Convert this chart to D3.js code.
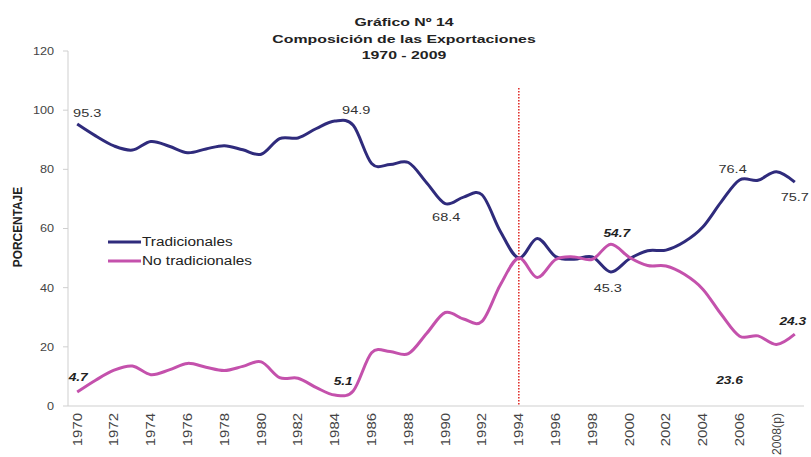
<!DOCTYPE html>
<html><head><meta charset="utf-8">
<script src="https://cdn.jsdelivr.net/npm/d3@7"></script>
<style>
body{margin:0;background:#fff}
text{font-family:"Liberation Sans",Arial,sans-serif}
</style>
</head><body>
<svg id="c" width="811" height="457"></svg>
<script>
const years = [1970,1971,1972,1973,1974,1975,1976,1977,1978,1979,
               1980,1981,1982,1983,1984,1985,1986,1987,1988,1989,
               1990,1991,1992,1993,1994,1995,1996,1997,1998,1999,
               2000,2001,2002,2003,2004,2005,2006,2007,2008,2009];
const tradicionales = [95.3,91.3,87.9,86.5,89.4,87.8,85.6,86.9,88.0,86.6,
                       85.1,90.4,90.6,93.8,96.3,94.9,82.0,81.6,82.3,75.4,
                       68.4,70.6,71.4,59.0,50.0,56.6,50.5,49.6,50.4,45.3,
                       49.7,52.5,52.7,55.5,60.5,69.0,76.4,76.3,79.2,75.7];
const noTradicionales = [4.7,8.7,12.1,13.5,10.6,12.2,14.4,13.1,12.0,13.4,
                         14.9,9.6,9.4,6.2,3.7,5.1,18.0,18.4,17.7,24.6,
                         31.6,29.4,28.6,41.0,50.0,43.4,49.5,50.4,49.6,54.7,
                         50.3,47.5,47.3,44.5,39.5,31.0,23.6,23.7,20.8,24.3];
const xTickYears = [1970,1972,1974,1976,1978,1980,1982,1984,1986,1988,1990,
                    1992,1994,1996,1998,2000,2002,2004,2006,2008];
const xTickLabels = ["1970","1972","1974","1976","1978","1980","1982","1984","1986","1988","1990",
                     "1992","1994","1996","1998","2000","2002","2004","2006","2008(p)"];
const yTicks = [0,20,40,60,80,100,120];
const titleLines = ["Gráfico  Nº 14","Composición de las Exportaciones","1970 - 2009"];
const seriesNames = ["Tradicionales","No tradicionales"];
const markerYear = 1994;
// labelled points: [year, text, dx, dy]
const tradLabels = [[1970,"95.3",10,-11],[1985,"94.9",3,-15],[1990,"68.4",1,13],
                    [1999,"45.3",-3,16],[2006,"76.4",-7,-11],[2009,"75.7",0,15]];
const noTradLabels = [[1970,"4.7",1,-15],[1985,"5.1",-10,-10],[1999,"54.7",6,-11],
                      [2006,"23.6",-10,44],[2009,"24.3",-2,-13]];

const colors = ["#2f2b7c","#c451ac"];
const svg = d3.select("#c");
const x = d3.scalePoint().domain(years).range([68, 804]).padding(0.5);
const y = d3.scaleLinear().domain([0,120]).range([406, 51]);

function stext(g, tx, ty, str, opts){
  const t = g.append("text")
    .attr("text-anchor", opts.anchor||"middle")
    .attr("dy", opts.dy||"0.35em")
    .style("font-size", (opts.size||11)+"px")
    .style("font-weight", opts.weight||"normal")
    .style("font-style", opts.style||"normal")
    .attr("fill", opts.fill||"#333")
    .text(str);
  let sx = opts.sx||1;
  if (opts.maxLen) {
    const w = t.node().getComputedTextLength();
    if (w*sx > opts.maxLen) sx = opts.maxLen / w;
  }
  t.attr("transform", `translate(${tx},${ty})${opts.rot?" rotate("+opts.rot+")":""} scale(${sx},${opts.sy||1})`);
  return t;
}

// title
const tY = [22, 39, 55];
titleLines.forEach((s,i)=> stext(svg, 404, tY[i], s, {size:11.5, weight:"bold", sx:1.38, fill:"#222"}));

// y axis
svg.append("line").attr("x1",68).attr("x2",68).attr("y1",y(120)).attr("y2",y(0))
  .attr("stroke","#cfcfcf").attr("stroke-width",1);
yTicks.forEach(v=>{
  svg.append("line").attr("x1",63).attr("x2",68).attr("y1",y(v)).attr("y2",y(v))
     .attr("stroke","#cfcfcf");
  stext(svg, 54, y(v), String(v), {anchor:"end", size:11, sx:1.15, fill:"#444"});
});
stext(svg, 18, 227, "PORCENTAJE", {rot:-90, size:11, weight:"bold", sx:1.08, sy:1.15, fill:"#222"});

// x axis
svg.append("line").attr("x1",68).attr("x2",804).attr("y1",y(0)).attr("y2",y(0))
  .attr("stroke","#cfcfcf");
xTickYears.forEach((yr,i)=>{
  stext(svg, x(yr), 413, xTickLabels[i], {rot:-90, anchor:"end", size:11.5, sx:1.3, sy:1.1, fill:"#444", maxLen:42});
});

// marker line
svg.append("line").attr("x1",x(markerYear)).attr("x2",x(markerYear))
  .attr("y1",88).attr("y2",y(0))
  .attr("stroke","#e0322f").attr("stroke-width",1.6).attr("stroke-dasharray","1.5,1.5");

// lines
const line = d3.line().x((d,i)=>x(years[i])).y(d=>y(d)).curve(d3.curveCatmullRom.alpha(0));
[tradicionales, noTradicionales].forEach((s,k)=>{
  svg.append("path").attr("d", line(s)).attr("fill","none")
    .attr("stroke", colors[k]).attr("stroke-width",3).attr("stroke-linejoin","round");
});

// data labels
tradLabels.forEach(([yr,s,dx,dy])=>{
  const v = tradicionales[years.indexOf(yr)];
  stext(svg, x(yr)+dx, y(v)+dy, s, {size:11, sx:1.32, fill:"#333"});
});
noTradLabels.forEach(([yr,s,dx,dy])=>{
  const v = noTradicionales[years.indexOf(yr)];
  stext(svg, x(yr)+dx, y(v)+dy, s, {size:11, weight:"bold", style:"italic", sx:1.25, fill:"#222"});
});

// legend
const legY = [242, 261];
seriesNames.forEach((n,k)=>{
  svg.append("line").attr("x1",108).attr("x2",141).attr("y1",legY[k]).attr("y2",legY[k])
    .attr("stroke",colors[k]).attr("stroke-width",3);
  stext(svg, 142, legY[k], n, {anchor:"start", size:12, sx:1.28, fill:"#222"});
});
</script>
</body></html>
